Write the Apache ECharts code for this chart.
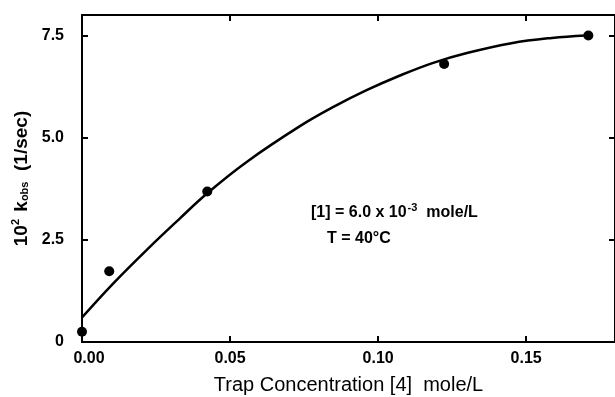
<!DOCTYPE html>
<html>
<head>
<meta charset="utf-8">
<script src="https://cdn.jsdelivr.net/npm/echarts@6/dist/echarts.min.js"></script>
<style>
  html, body { margin: 0; padding: 0; background: #fff; }
  #chart { width: 615px; height: 397px; }
</style>
</head>
<body>
<div id="chart"></div>
<script>
// measured points
const trapConc = [0.0, 0.0092, 0.0423, 0.1223, 0.171];
const kObs = [0.25, 1.73, 3.68, 6.80, 7.50];

// fitted curve
const fitConc = [0, 0.0105, 0.0218, 0.033, 0.0423, 0.0555, 0.0736, 0.0849, 0.0961, 0.1074, 0.1186, 0.130, 0.145, 0.1587, 0.170];
const fitK = [0.60, 1.43, 2.25, 3.02, 3.64, 4.40, 5.28, 5.75, 6.16, 6.52, 6.83, 7.07, 7.31, 7.44, 7.50];

const xTicks = ['0.00', '0.05', '0.10', '0.15'];
const yTicks = ['0', '2.5', '5.0', '7.5'];

const font = "'Liberation Sans', Arial, Helvetica, sans-serif";

const chart = echarts.init(document.getElementById('chart'));

const frameAxis = {
  axisLine: { show: true, onZero: false, lineStyle: { color: '#000', width: 2 } },
  axisTick: { show: true, inside: true, length: 6, lineStyle: { color: '#000', width: 2 } },
  splitLine: { show: false }
};

chart.setOption({
  animation: false,
  backgroundColor: '#fff',
  grid: { left: 82, right: 0, top: 15, bottom: 55, containLabel: false, outerBoundsMode: 'none' },
  xAxis: [
    Object.assign({
      type: 'value', min: 0, max: 0.18, interval: 0.05, position: 'bottom',
      name: 'Trap Concentration [4]  mole/L',
      nameLocation: 'middle', nameGap: 33,
      nameTextStyle: { fontFamily: font, fontSize: 20, color: '#000' },
      axisLabel: {
        show: true, showMaxLabel: false, margin: 9,
        fontFamily: font, fontSize: 16, fontWeight: 'bold', color: '#000',
        formatter: v => {
          const i = Math.round(v / 0.05);
          return i === 0 ? '{first|' + xTicks[0] + '}' : (xTicks[i] || '');
        },
        rich: { first: { fontFamily: font, fontSize: 16, fontWeight: 'bold', color: '#000', padding: [0, 0, 0, 14] } }
      }
    }, frameAxis),
    Object.assign({
      type: 'value', min: 0, max: 0.18, interval: 0.05, position: 'top',
      axisLabel: { show: false }
    }, frameAxis)
  ],
  yAxis: [
    Object.assign({
      type: 'value', min: 0, max: 8, interval: 2.5, position: 'left',
      name: '10{sup|2} k{sub|obs}  (1/sec)',
      nameLocation: 'middle', nameGap: 46,
      nameTextStyle: {
        fontFamily: font, fontSize: 19, fontWeight: 'bold', color: '#000',
        rich: {
          sup: { fontFamily: font, fontSize: 11, fontWeight: 'bold', color: '#000', verticalAlign: 'top', padding: [0, 2, 10, 0] },
          sub: { fontFamily: font, fontSize: 11, fontWeight: 'bold', color: '#000', padding: [8, 0, 0, 0] }
        }
      },
      axisLabel: {
        show: true, showMaxLabel: false, margin: 18,
        fontFamily: font, fontSize: 16, fontWeight: 'bold', color: '#000',
        formatter: v => yTicks[Math.round(v / 2.5)] || ''
      }
    }, frameAxis),
    Object.assign({
      type: 'value', min: 0, max: 8, interval: 2.5, position: 'right',
      axisLabel: { show: false }
    }, frameAxis)
  ],
  graphic: [
    {
      type: 'text', left: 311, top: 202,
      style: {
        text: '[1] = 6.0 x 10{sup|-3}  mole/L',
        font: 'bold 16px ' + font, fill: '#000',
        rich: { sup: { font: 'bold 11px ' + font, fill: '#000', padding: [0, 0, 10, 1] } }
      }
    },
    {
      type: 'text', left: 327, top: 231,
      style: { text: 'T = 40°C', font: 'bold 16px ' + font, fill: '#000' }
    }
  ],
  series: [
    {
      type: 'line',
      data: fitConc.map((x, i) => [x, fitK[i]]),
      smooth: 0.4,
      showSymbol: false,
      lineStyle: { color: '#000', width: 2.5 },
      z: 2
    },
    {
      type: 'scatter',
      data: trapConc.map((x, i) => [x, kObs[i]]),
      symbol: 'circle',
      symbolSize: 10,
      itemStyle: { color: '#000', opacity: 1 },
      clip: false,
      z: 3
    }
  ]
});
</script>
</body>
</html>
